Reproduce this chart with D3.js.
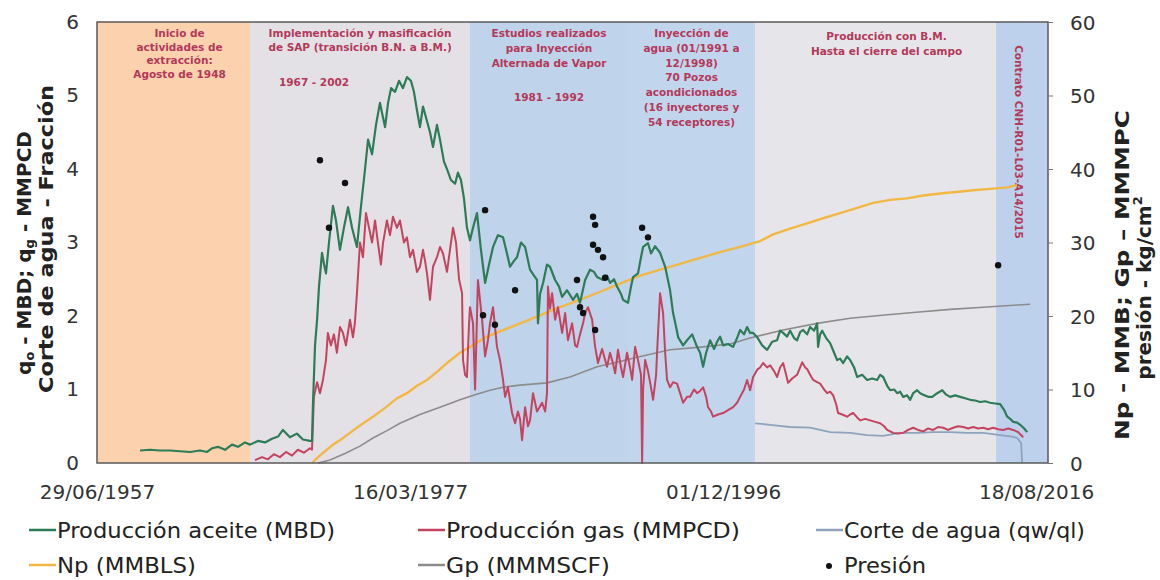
<!DOCTYPE html>
<html><head><meta charset="utf-8">
<script src="https://cdn.jsdelivr.net/npm/d3@7"></script>
<style>body{margin:0;background:#fff} svg{display:block}</style>
</head><body><svg id="c" width="1160" height="580"></svg>
<script>
// ---------- DATA ----------
const xTickDates  = [1957.49, 1977.21, 1996.92, 2016.63];
const xTickLabels = ["29/06/1957", "16/03/1977", "01/12/1996", "18/08/2016"];
const leftTicks  = [0, 1, 2, 3, 4, 5, 6];
const rightTicks = [0, 10, 20, 30, 40, 50, 60];

const periodBounds = [1957.49, 1967.13, 1980.98, 1990.93, 1998.93, 2014.11, 2017.38];
const periodNotes = [
  ["Inicio de", "actividades de", "extracción:", "Agosto de 1948"],
  ["Implementación y masificación", "de SAP (transición B.N. a B.M.)"],
  ["Estudios realizados", "para Inyección", "Alternada de Vapor"],
  ["Inyección de", "agua (01/1991 a", "12/1998)", "70 Pozos", "acondicionados", "(16 inyectores y", "54 receptores)"],
  ["Producción con B.M.", "Hasta el cierre del campo"],
  ["Contrato CNH-R01-L03-A14/2015"]
];
const periodYearNotes = ["", "1967 - 2002", "1981 - 1992", "", "", ""];

// Producción aceite (MBD) [year, value]
const oilData = [[1960.20,0.17],[1960.83,0.18],[1961.46,0.17],[1962.09,0.17],[1962.72,0.16],[1963.35,0.15],[1963.98,0.17],[1964.42,0.15],[1964.73,0.2],[1965.11,0.22],[1965.55,0.18],[1965.99,0.25],[1966.37,0.22],[1966.81,0.28],[1967.13,0.25],[1967.63,0.3],[1968.07,0.28],[1968.51,0.33],[1968.89,0.36],[1969.20,0.45],[1969.64,0.35],[1970.08,0.4],[1970.46,0.32],[1970.90,0.3],[1971.03,0.3],[1971.09,0.8],[1971.22,1.6],[1971.35,1.95],[1971.47,2.4],[1971.66,2.86],[1971.79,2.7],[1971.91,2.58],[1972.10,3.0],[1972.35,3.5],[1972.54,3.3],[1972.79,2.9],[1973.04,3.2],[1973.30,3.48],[1973.55,3.2],[1973.86,2.94],[1974.12,3.5],[1974.37,4.0],[1974.56,4.4],[1974.81,4.2],[1975.06,4.6],[1975.31,4.9],[1975.50,4.7],[1975.63,4.57],[1975.82,4.9],[1976.01,5.1],[1976.26,5.05],[1976.51,5.2],[1976.76,5.1],[1977.01,5.25],[1977.26,5.2],[1977.45,5.05],[1977.64,4.8],[1977.83,4.57],[1978.02,4.85],[1978.21,4.7],[1978.46,4.5],[1978.65,4.3],[1978.90,4.6],[1979.09,4.4],[1979.34,4.1],[1979.53,4.0],[1979.78,3.85],[1980.04,3.8],[1980.22,3.95],[1980.41,3.85],[1980.60,3.6],[1980.79,3.2],[1980.98,3.03],[1981.17,3.2],[1981.42,3.4],[1981.67,2.9],[1981.93,2.45],[1982.18,2.7],[1982.43,2.94],[1982.74,3.1],[1983.06,3.07],[1983.31,2.85],[1983.50,2.67],[1983.75,2.75],[1983.94,2.8],[1984.19,3.0],[1984.45,2.94],[1984.76,2.63],[1985.01,2.55],[1985.20,2.49],[1985.26,1.9],[1985.39,2.3],[1985.58,2.45],[1985.83,2.7],[1986.02,2.67],[1986.34,2.49],[1986.59,2.4],[1986.78,2.26],[1987.09,2.35],[1987.47,2.22],[1987.72,2.3],[1987.91,2.18],[1988.23,2.49],[1988.54,2.63],[1988.79,2.6],[1988.98,2.53],[1989.36,2.49],[1989.61,2.55],[1989.80,2.45],[1990.05,2.5],[1990.24,2.4],[1990.49,2.3],[1990.62,2.22],[1990.93,2.18],[1991.12,2.4],[1991.25,2.53],[1991.56,2.58],[1991.75,2.8],[1991.88,2.94],[1992.19,2.99],[1992.38,2.85],[1992.63,2.95],[1992.95,2.86],[1993.27,2.67],[1993.58,2.35],[1993.77,2.04],[1993.96,1.85],[1994.09,1.71],[1994.40,1.6],[1994.65,1.67],[1994.97,1.75],[1995.28,1.58],[1995.47,1.5],[1995.66,1.31],[1995.85,1.5],[1996.10,1.67],[1996.35,1.55],[1996.54,1.65],[1996.73,1.72],[1996.92,1.6],[1997.23,1.62],[1997.55,1.58],[1997.80,1.7],[1997.99,1.81],[1998.24,1.75],[1998.43,1.85],[1998.62,1.77],[1998.81,1.77],[1999.07,1.71],[1999.38,1.6],[1999.69,1.54],[2000.01,1.65],[2000.32,1.67],[2000.51,1.8],[2000.70,1.77],[2000.95,1.72],[2001.14,1.8],[2001.39,1.7],[2001.58,1.67],[2001.77,1.78],[2001.96,1.81],[2002.21,1.75],[2002.40,1.85],[2002.65,1.8],[2002.84,1.9],[2002.90,1.58],[2003.03,1.75],[2003.16,1.8],[2003.41,1.7],[2003.66,1.63],[2003.91,1.5],[2004.10,1.4],[2004.29,1.42],[2004.48,1.36],[2004.73,1.45],[2004.92,1.4],[2005.17,1.3],[2005.36,1.17],[2005.68,1.2],[2005.99,1.13],[2006.31,1.15],[2006.62,1.13],[2006.81,1.2],[2007.00,1.17],[2007.25,1.05],[2007.44,0.99],[2007.69,1.0],[2007.88,0.95],[2008.07,0.97],[2008.26,0.9],[2008.51,0.92],[2008.70,0.86],[2008.89,0.95],[2009.14,0.99],[2009.33,0.95],[2009.52,0.93],[2009.83,0.9],[2010.09,0.9],[2010.40,0.95],[2010.72,0.99],[2010.97,0.93],[2011.22,0.9],[2011.53,0.92],[2011.85,0.9],[2012.16,0.88],[2012.48,0.86],[2012.79,0.85],[2013.11,0.83],[2013.42,0.84],[2013.74,0.82],[2014.05,0.81],[2014.37,0.8],[2014.62,0.72],[2014.81,0.63],[2015.00,0.6],[2015.19,0.56],[2015.44,0.55],[2015.63,0.52],[2015.88,0.47],[2016.07,0.42]];

// Producción gas (MMPCD)
const gasData = [[1967.44,0.04],[1967.88,0.08],[1968.25,0.05],[1968.63,0.12],[1969.01,0.08],[1969.39,0.15],[1969.77,0.1],[1970.14,0.18],[1970.52,0.14],[1970.90,0.2],[1971.03,0.18],[1971.15,0.9],[1971.35,1.1],[1971.53,0.95],[1971.72,1.13],[1971.91,1.4],[1972.03,1.77],[1972.22,1.6],[1972.41,1.75],[1972.60,1.5],[1972.79,1.85],[1972.98,1.77],[1973.17,1.6],[1973.42,1.95],[1973.61,1.71],[1973.73,1.9],[1973.86,2.31],[1974.05,3.0],[1974.24,2.8],[1974.43,3.4],[1974.62,3.2],[1974.81,3.0],[1975.00,3.3],[1975.18,3.0],[1975.37,2.7],[1975.50,2.99],[1975.75,3.3],[1975.94,3.1],[1976.13,3.35],[1976.38,3.2],[1976.57,3.3],[1976.82,3.0],[1977.01,3.07],[1977.20,2.8],[1977.39,2.9],[1977.64,2.6],[1977.83,2.67],[1978.02,2.9],[1978.15,2.75],[1978.27,2.58],[1978.46,2.22],[1978.65,2.67],[1978.90,2.8],[1979.09,2.94],[1979.28,2.85],[1979.53,2.6],[1979.72,2.9],[1979.91,3.2],[1980.10,3.0],[1980.29,2.5],[1980.48,2.31],[1980.54,1.4],[1980.67,1.2],[1980.79,1.17],[1980.92,1.9],[1980.98,2.12],[1981.17,1.9],[1981.30,1.0],[1981.48,2.49],[1981.74,1.95],[1981.93,1.45],[1982.11,1.67],[1982.24,1.9],[1982.43,2.12],[1982.68,1.58],[1982.87,1.4],[1983.06,1.13],[1983.19,0.9],[1983.37,1.03],[1983.63,0.68],[1983.82,0.54],[1984.00,0.7],[1984.13,0.6],[1984.26,0.31],[1984.45,0.76],[1984.63,0.5],[1984.76,0.58],[1984.95,0.95],[1985.20,0.7],[1985.52,0.82],[1985.71,0.7],[1985.83,0.95],[1985.89,2.4],[1986.02,2.1],[1986.15,2.31],[1986.34,1.95],[1986.52,2.12],[1986.78,1.77],[1986.97,2.04],[1987.15,1.67],[1987.41,1.9],[1987.60,1.6],[1987.72,1.58],[1987.91,1.75],[1988.10,1.9],[1988.23,2.04],[1988.41,2.12],[1988.67,1.95],[1988.86,1.58],[1989.04,1.36],[1989.30,1.55],[1989.49,1.4],[1989.61,1.31],[1989.80,1.5],[1989.99,1.35],[1990.12,1.22],[1990.30,1.54],[1990.49,1.3],[1990.62,1.17],[1990.87,1.5],[1991.06,1.3],[1991.19,1.13],[1991.38,1.58],[1991.56,1.4],[1991.75,1.2],[1991.82,0.0],[1991.88,1.0],[1992.01,1.4],[1992.19,1.25],[1992.32,1.1],[1992.51,0.86],[1992.70,1.2],[1992.76,1.5],[1992.95,2.31],[1993.14,2.04],[1993.27,1.5],[1993.39,1.13],[1993.58,1.03],[1993.77,1.1],[1994.02,1.08],[1994.21,0.95],[1994.40,0.82],[1994.65,0.9],[1994.84,0.9],[1995.09,1.0],[1995.28,0.95],[1995.47,0.98],[1995.66,1.03],[1995.85,0.9],[1995.97,0.76],[1996.16,0.7],[1996.29,0.63],[1996.60,0.66],[1996.92,0.68],[1997.23,0.72],[1997.55,0.76],[1997.80,0.82],[1997.99,0.9],[1998.24,1.0],[1998.43,1.13],[1998.62,0.99],[1998.81,1.17],[1999.07,1.27],[1999.25,1.3],[1999.44,1.36],[1999.69,1.3],[1999.88,1.33],[2000.13,1.25],[2000.32,1.17],[2000.51,1.3],[2000.70,1.36],[2000.89,1.2],[2001.01,1.09],[2001.27,1.15],[2001.58,1.2],[2001.77,1.3],[2001.90,1.37],[2002.09,1.3],[2002.21,1.28],[2002.40,1.2],[2002.59,1.13],[2002.84,1.1],[2003.03,1.08],[2003.28,1.0],[2003.47,0.95],[2003.66,0.97],[2003.85,0.92],[2004.04,0.8],[2004.16,0.68],[2004.42,0.66],[2004.73,0.63],[2004.92,0.66],[2005.11,0.68],[2005.36,0.62],[2005.55,0.58],[2005.87,0.6],[2006.18,0.58],[2006.50,0.56],[2006.81,0.54],[2007.06,0.5],[2007.25,0.45],[2007.44,0.43],[2007.63,0.41],[2007.95,0.4],[2008.26,0.41],[2008.57,0.45],[2008.89,0.48],[2009.20,0.45],[2009.52,0.43],[2009.83,0.47],[2010.15,0.45],[2010.46,0.49],[2010.78,0.48],[2011.09,0.45],[2011.41,0.48],[2011.72,0.5],[2012.04,0.49],[2012.35,0.47],[2012.67,0.49],[2012.98,0.47],[2013.30,0.48],[2013.61,0.46],[2013.93,0.48],[2014.24,0.46],[2014.56,0.45],[2014.87,0.47],[2015.19,0.45],[2015.50,0.42],[2015.82,0.35]];

// Corte de agua (qw/ql)
const waterCutData = [[1998.94,0.54],[1999.88,0.52],[2001.14,0.49],[2002.40,0.48],[2003.66,0.42],[2004.92,0.41],[2005.99,0.38],[2007.00,0.37],[2008.07,0.41],[2009.14,0.41],[2010.15,0.42],[2011.22,0.42],[2012.29,0.41],[2013.30,0.41],[2014.37,0.38],[2015.13,0.36],[2015.44,0.34],[2015.69,0.27],[2015.75,0.0]];

// Np (MMBLS) - right axis
const npData = [[1971.03,0],[1971.41,0.8],[1971.85,1.6],[1972.35,2.5],[1972.79,3.1],[1973.42,4.1],[1974.05,5.1],[1974.87,6.3],[1975.63,7.5],[1976.38,8.8],[1977.01,9.5],[1977.64,10.5],[1978.27,11.3],[1978.90,12.4],[1979.53,13.6],[1980.35,15.0],[1980.98,15.8],[1982.05,17.2],[1982.87,17.9],[1984.13,19.0],[1985.39,20.1],[1986.65,21.2],[1987.91,22.2],[1989.17,23.3],[1990.43,24.4],[1991.69,25.5],[1992.95,26.3],[1994.21,27.1],[1995.47,27.9],[1996.73,28.7],[1997.99,29.4],[1999.25,30.2],[2000.07,31.1],[2001.14,31.9],[2002.21,32.6],[2003.22,33.3],[2004.29,34.0],[2005.36,34.7],[2006.37,35.4],[2007.44,35.8],[2008.51,36.0],[2009.52,36.4],[2010.72,36.7],[2011.78,36.9],[2012.67,37.1],[2013.74,37.3],[2014.81,37.5],[2015.44,37.8]];

// Gp (MMMSCF) - right axis
const gpData = [[1971.41,0],[1972.16,0.4],[1973.11,1.3],[1974.05,2.3],[1974.87,3.4],[1975.75,4.4],[1976.57,5.4],[1977.83,6.6],[1979.09,7.6],[1980.35,8.6],[1981.30,9.3],[1982.24,9.9],[1983.06,10.3],[1984.13,10.6],[1985.83,10.9],[1987.28,11.7],[1988.98,13.1],[1990.43,13.8],[1991.50,14.4],[1993.58,15.4],[1995.66,15.8],[1997.36,16.2],[1998.62,17.0],[2000.70,18.1],[2002.84,19.0],[2004.92,19.7],[2006.94,20.1],[2009.08,20.5],[2011.22,20.9],[2013.30,21.2],[2015.44,21.5],[2016.26,21.6]];

// Presión (kg/cm2) - right axis
const pressureData = [[1971.53,41.2],[1972.10,32.0],[1973.11,38.1],[1981.80,20.1],[1981.93,34.4],[1982.55,18.8],[1983.82,23.5],[1987.72,24.9],[1987.91,21.2],[1988.10,20.4],[1988.73,33.5],[1988.86,32.4],[1988.73,29.7],[1989.04,29.0],[1989.36,28.0],[1989.49,25.2],[1988.86,18.1],[1991.82,32.0],[1992.19,30.7],[2014.24,26.9]];

const legendLabels = ["Producción aceite (MBD)", "Producción gas (MMPCD)", "Corte de agua (qw/ql)", "Np (MMBLS)", "Gp (MMMSCF)", "Presión"];

// ---------- STYLE / LAYOUT ----------
const periodFill = ["#fcd2ae", "#e4e1e6", "#bfd3ea", "#c1d6ed", "#e6e5e9", "#bdd0ec"];
const noteColor = "#b3395a";
const colors = {oil: "#2e7b58", gas: "#c4445f", water: "#8ea4bd", np: "#f3b843", gp: "#8c8c8c"};
const noteDx = [6, 0, 0, 0, 11];
const noteTop = [37, 37, 37, 37, 40];
const noteLH = [13.5, 14, 15, 14.8, 15];
const yearNoteDx = [0, -46, 0];
const yearNoteY = [0, 86, 101];
const legendCols = [29, 418, 816];
const legendRows = [530, 565];
const legendTextLen = [278, 294, 241, 139, 164, 82];
const FONT = "'DejaVu Sans', sans-serif";

const svg = d3.select("#c");
const M = {left: 97, right: 1048, top: 22, bottom: 463};
const x = d3.scaleLinear().domain([periodBounds[0], periodBounds[periodBounds.length - 1]]).range([M.left, M.right]);
const yL = d3.scaleLinear().domain([0, 6]).range([M.bottom, M.top]);
const yR = d3.scaleLinear().domain([0, 60]).range([M.bottom, M.top]);

svg.append("rect").attr("width", 1160).attr("height", 580).attr("fill", "#fff");

// period backgrounds
const periods = d3.range(periodBounds.length - 1);
svg.append("g").selectAll("rect").data(periods).join("rect")
  .attr("x", i => x(periodBounds[i])).attr("y", M.top)
  .attr("width", i => x(periodBounds[i + 1]) - x(periodBounds[i]))
  .attr("height", M.bottom - M.top)
  .attr("fill", i => periodFill[i]);

// notes
const notes = svg.append("g").attr("font-family", FONT).attr("font-weight", "bold")
  .attr("font-size", 10.5).attr("fill", noteColor).attr("text-anchor", "middle");
periods.slice(0, 5).forEach(i => {
  const cx = (x(periodBounds[i]) + x(periodBounds[i + 1])) / 2 + noteDx[i];
  periodNotes[i].forEach((t, k) => {
    notes.append("text").attr("x", cx).attr("y", noteTop[i] + k * noteLH[i]).text(t);
  });
  if (periodYearNotes[i]) {
    notes.append("text").attr("x", cx + yearNoteDx[i]).attr("y", yearNoteY[i]).text(periodYearNotes[i]);
  }
});
{
  const cx = (x(periodBounds[5]) + x(periodBounds[6])) / 2;
  notes.append("text").attr("transform", `translate(${cx - 3},142) rotate(90)`)
    .attr("dominant-baseline", "central").attr("font-size", 10.5).text(periodNotes[5][0]);
}

// lines
const lineL = d3.line().x(d => x(d[0])).y(d => yL(d[1]));
const lineR = d3.line().x(d => x(d[0])).y(d => yR(d[1]));
const g = svg.append("g").attr("fill", "none").attr("stroke-linejoin", "round");
g.append("path").datum(gpData).attr("d", lineR).attr("stroke", colors.gp).attr("stroke-width", 1.6);
g.append("path").datum(npData).attr("d", lineR).attr("stroke", colors.np).attr("stroke-width", 2.4);
g.append("path").datum(waterCutData).attr("d", lineL).attr("stroke", colors.water).attr("stroke-width", 1.8);
g.append("path").datum(gasData).attr("d", lineL).attr("stroke", colors.gas).attr("stroke-width", 2);
g.append("path").datum(oilData).attr("d", lineL).attr("stroke", colors.oil).attr("stroke-width", 2.2);

svg.append("g").selectAll("circle").data(pressureData).join("circle")
  .attr("cx", d => x(d[0])).attr("cy", d => yR(d[1])).attr("r", 3.2).attr("fill", "#111");

// frame
svg.append("rect").attr("x", M.left).attr("y", M.top).attr("width", M.right - M.left)
  .attr("height", M.bottom - M.top).attr("fill", "none").attr("stroke", "#5a5a5a").attr("stroke-width", 1.5);

// axes
const axL = svg.append("g").attr("transform", `translate(${M.left - 15},0)`)
  .call(d3.axisLeft(yL).tickValues(leftTicks).tickSize(0).tickFormat(d3.format("d")));
const axR = svg.append("g").attr("transform", `translate(${M.right},0)`)
  .call(d3.axisRight(yR).tickValues(rightTicks).tickSize(5).tickPadding(17).tickFormat(d3.format("d")));
const axX = svg.append("g").attr("transform", `translate(0,${M.bottom})`)
  .call(d3.axisBottom(x).tickValues(xTickDates).tickSize(0).tickPadding(22).tickFormat((d, i) => xTickLabels[i]));
[axL, axR, axX].forEach(a => {
  a.select(".domain").remove();
  a.selectAll("text").attr("font-family", FONT).attr("font-size", 20).attr("fill", "#333");
});
axR.selectAll("line").attr("stroke", "#777");
axR.selectAll("text").attr("dy", "0.35em");

// axis titles
const t1 = svg.append("text").attr("transform", "translate(24,253) rotate(-90)")
  .attr("font-family", FONT).attr("font-weight", "bold").attr("font-size", 20).attr("fill", "#222")
  .attr("text-anchor", "middle").attr("dominant-baseline", "central");
t1.append("tspan").text("q");
t1.append("tspan").attr("font-size", 13).attr("dy", 5).text("o");
t1.append("tspan").attr("dy", -5).text(" - MBD; q");
t1.append("tspan").attr("font-size", 13).attr("dy", 5).text("g");
t1.append("tspan").attr("dy", -5).text(" - MMPCD");
svg.append("text").attr("transform", "translate(46,239) rotate(-90)")
  .attr("font-family", FONT).attr("font-weight", "bold").attr("font-size", 20).attr("fill", "#222")
  .attr("text-anchor", "middle").attr("dominant-baseline", "central")
  .attr("textLength", 308).attr("lengthAdjust", "spacingAndGlyphs").text("Corte de agua - Fracción");
svg.append("text").attr("transform", "translate(1122,275) rotate(-90)")
  .attr("font-family", FONT).attr("font-weight", "bold").attr("font-size", 20).attr("fill", "#222")
  .attr("text-anchor", "middle").attr("dominant-baseline", "central")
  .attr("textLength", 330).attr("lengthAdjust", "spacingAndGlyphs").text("Np - MMB; Gp – MMMPC");
const t4 = svg.append("text").attr("transform", "translate(1144,288) rotate(-90)")
  .attr("font-family", FONT).attr("font-weight", "bold").attr("font-size", 20).attr("fill", "#222")
  .attr("text-anchor", "middle").attr("dominant-baseline", "central");
t4.append("tspan").text("presión - kg/cm");
t4.append("tspan").attr("font-size", 13).attr("dy", -7).text("2");

// legend
const legendColors = [colors.oil, colors.gas, colors.water, colors.np, colors.gp, "#111"];
const lg = svg.append("g").attr("font-family", FONT).attr("font-size", 21).attr("fill", "#222");
legendLabels.forEach((lab, i) => {
  const cx = legendCols[i % 3], cy = legendRows[Math.floor(i / 3)];
  if (i < 5) {
    lg.append("line").attr("x1", cx).attr("x2", cx + 27).attr("y1", cy).attr("y2", cy)
      .attr("stroke", legendColors[i]).attr("stroke-width", 2.5);
  } else {
    lg.append("circle").attr("cx", cx + 13).attr("cy", cy + 1).attr("r", 3).attr("fill", legendColors[i]);
  }
  lg.append("text").attr("x", cx + 28).attr("y", cy).attr("dy", "0.36em")
    .attr("textLength", legendTextLen[i]).attr("lengthAdjust", "spacingAndGlyphs").text(lab);
});
</script></body></html>
